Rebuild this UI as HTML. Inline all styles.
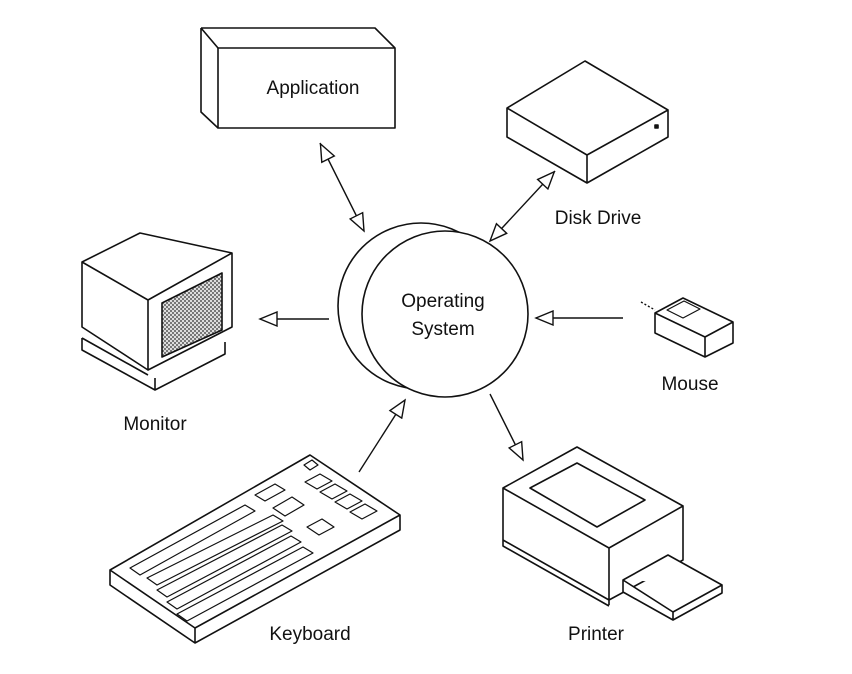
<!DOCTYPE html>
<html><head><meta charset="utf-8"><style>
html,body{margin:0;padding:0;background:#fff}
svg{display:block}
text{font-family:"Liberation Sans",sans-serif;font-size:19px;fill:#111}
</style></head><body>
<svg width="852" height="674" viewBox="0 0 852 674" xmlns="http://www.w3.org/2000/svg">
<defs>
<pattern id="chk" width="4" height="4" patternUnits="userSpaceOnUse">
<rect width="4" height="4" fill="#ddd"/><rect width="2" height="2" fill="#777"/><rect x="2" y="2" width="2" height="2" fill="#777"/>
</pattern>
<marker id="ah" markerWidth="20" markerHeight="16" refX="18" refY="8" orient="auto" markerUnits="userSpaceOnUse">
<path d="M1,1 L18,8 L1,15 Z" fill="#fff" stroke="#111" stroke-width="1.4"/>
</marker>
<marker id="as" markerWidth="20" markerHeight="16" refX="0" refY="8" orient="auto" markerUnits="userSpaceOnUse">
<path d="M18,1 L1,8 L18,15 Z" fill="#fff" stroke="#111" stroke-width="1.4"/>
</marker>
</defs>
<g fill="none" stroke="#111" stroke-width="1.6" stroke-linejoin="round">
<!-- Application -->
<path d="M201,28 L375,28 L395,48 M201,28 L201,112 L218,128 M201,28 L218,48" />
<rect x="218" y="48" width="177" height="80" fill="#fff"/>
<!-- Disk drive -->
<path d="M507,108 L585,61 L668,110 L587,155 Z M507,108 L507,137 L587,183 L668,137 L668,110 M587,155 L587,183"/>
<rect x="655" y="125" width="3" height="3" fill="#111"/>
<!-- OS circles -->
<circle cx="421" cy="306" r="83" fill="#fff"/>
<circle cx="445" cy="314" r="83" fill="#fff"/>
<!-- Arrows -->
<line x1="320" y1="143" x2="364" y2="231" marker-start="url(#as)" marker-end="url(#ah)" stroke-width="1.4"/>
<line x1="555" y1="171" x2="490" y2="241" marker-start="url(#as)" marker-end="url(#ah)" stroke-width="1.4"/>
<line x1="329" y1="319" x2="260" y2="319" marker-end="url(#ah)" stroke-width="1.4"/>
<line x1="623" y1="318" x2="536" y2="318" marker-end="url(#ah)" stroke-width="1.4"/>
<line x1="359" y1="472" x2="405" y2="400" marker-end="url(#ah)" stroke-width="1.4"/>
<line x1="490" y1="394" x2="523" y2="460" marker-end="url(#ah)" stroke-width="1.4"/>
<!-- Monitor -->
<path d="M82,338 L82,350 L155,390 L225,354 L225,342 M82,338 L148,375 M155,390 L155,378" />
<path d="M82,262 L140,233 L232,253 L232,327 L148,370 L148,300 L82,262 Z M82,262 L82,327 L148,370 M148,300 L232,253" fill="#fff"/>
<path d="M162,303 L222,273 L222,330 L162,357 Z" fill="url(#chk)"/>
<!-- Keyboard -->
<path d="M110,570 L310,455 L400,515 L400,530 L195,643 L110,585 Z M110,570 L195,628 L400,515 M195,628 L195,643" fill="#fff"/>
<path d="M130,568 L245,505 L255,511 L140,575 Z M147,578 L273,515 L283,521 L157,585 Z M157,590 L282,525 L292,531 L167,597 Z M167,602 L291,536 L301,542 L177,609 Z M177,614 L303,547 L313,553 L187,621 Z" stroke-width="1.2"/>
<path d="M255,495 L275,484 L285,490 L265,501 Z M273,508 L292,497 L304,505 L285,516 Z M305,482 L320,474 L332,481 L317,489 Z M320,492 L335,484 L347,491 L332,499 Z M335,502 L350,494 L362,501 L347,509 Z M350,512 L365,504 L377,511 L362,519 Z M307,527 L322,519 L334,527 L319,535 Z M304,465 L312,460 L318,465 L310,470 Z" stroke-width="1.2"/>
<!-- Printer -->
<path d="M503,488 L577,447 L683,506 L609,548 Z M503,488 L503,540 L609,600 L683,560 L683,506 M609,548 L609,605 M503,540 L503,546 L609,606" fill="#fff"/>
<path d="M530,488 L577,463 L645,500 L597,527 Z" />
<path d="M623,580 L668,555 L722,585 L673,612 Z M623,580 L623,592 L673,620 L722,593 L722,585 M673,612 L673,620" fill="#fff"/>
<!-- Mouse -->
<path d="M655,313 L683,298 L733,322 L705,337 Z M655,313 L655,333 L705,357 L733,343 L733,322 M705,337 L705,357" fill="#fff"/>
<path d="M667,310 L684,301 L700,309 L683,318 Z" stroke-width="1.2"/>
<path d="M641,302 L655,310" stroke-dasharray="2,2" stroke-width="1.4"/>
</g>
<text x="313" y="94" text-anchor="middle">Application</text>
<text x="598" y="224" text-anchor="middle">Disk Drive</text>
<text x="443" y="307" text-anchor="middle">Operating</text>
<text x="443" y="335" text-anchor="middle">System</text>
<text x="155" y="430" text-anchor="middle">Monitor</text>
<text x="690" y="390" text-anchor="middle">Mouse</text>
<text x="310" y="640" text-anchor="middle">Keyboard</text>
<text x="596" y="640" text-anchor="middle">Printer</text>
</svg>
</body></html>
